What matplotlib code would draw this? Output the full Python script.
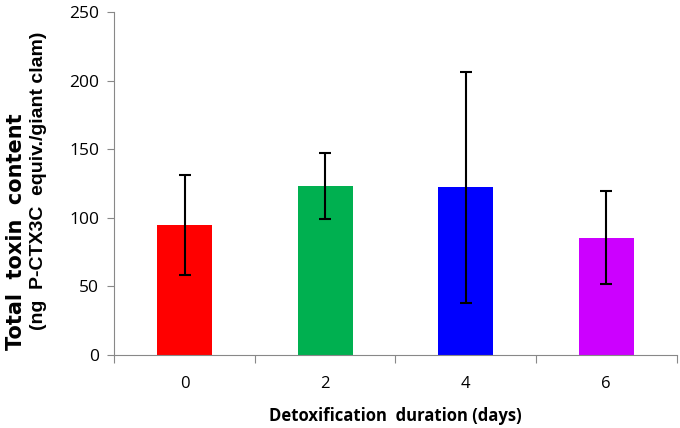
import numpy as np
import matplotlib.pyplot as plt

# Detoxification days and mean toxin content (with SD)
days = ['0', '2', '4', '6']
toxin = [94.5, 123.2, 122.2, 85.5]
sd = [36.3, 24.3, 84.3, 33.8]
colors = ['#FF0000', '#00B050', '#0000FF', '#CC00FF']

fig = plt.figure(figsize=(6.8, 4.28), dpi=100)
ax = fig.add_axes([0.168, 0.171, 0.827, 0.801])

x = np.arange(len(days))
ax.bar(x, toxin, width=0.39, color=colors, zorder=2)
ax.errorbar(x, toxin, yerr=sd, fmt='none', ecolor='black', elinewidth=1.5,
            capsize=4, capthick=1.5, zorder=3)

ax.set_xlim(-0.5, len(days) - 0.5)
ax.set_ylim(0, 250)
ax.set_yticks(np.arange(0, 251, 50))

# Excel-style category axis: ticks between categories
ax.set_xticks(np.arange(-0.5, len(days), 1.0))
ax.set_xticklabels([])
ax.set_xticks(x, minor=True)
ax.set_xticklabels(days, minor=True, fontsize=12, family='Open Sans')
ax.tick_params(axis='x', which='major', length=6, direction='out', color='#888888')
ax.tick_params(axis='x', which='minor', length=0, pad=15)
ax.tick_params(axis='y', length=5, direction='out', color='#888888', labelsize=12.5, pad=6)
for lab in ax.get_yticklabels():
    lab.set_family('Open Sans')

for side in ['top', 'right']:
    ax.spines[side].set_visible(False)
for side in ['left', 'bottom']:
    ax.spines[side].set_color('#888888')

ax.set_xlabel('Detoxification  duration (days)', fontsize=12, fontweight='bold',
              family='Open Sans', labelpad=11)

# two-line y title, drawn as two rotated lines
fig.text(0.024, 1 - 350 / 428, 'Total  toxin  content', rotation=90, fontsize=15,
         fontweight='bold', family='DejaVu Sans', ha='center', va='bottom')
fig.text(0.056, 1 - 330 / 428, '(ng  P-CTX3C  equiv./giant clam)', rotation=90,
         fontsize=14, fontweight='bold', family='Liberation Sans', ha='center', va='bottom')

fig.savefig('out.png', dpi=100)
